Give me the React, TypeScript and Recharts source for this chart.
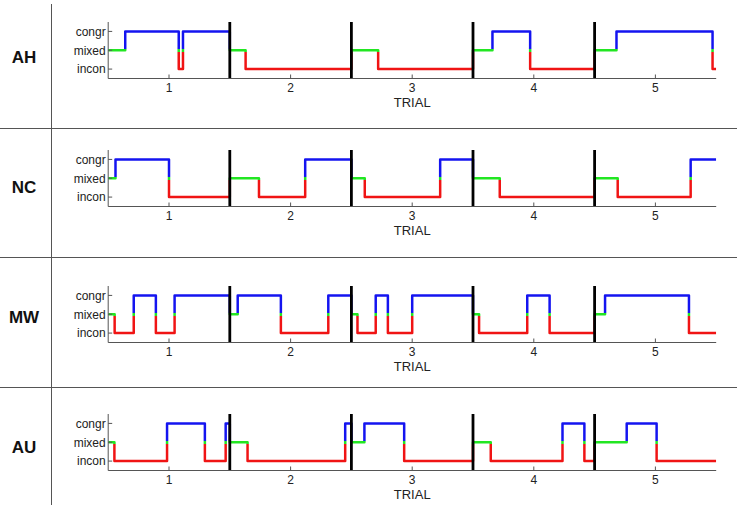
import { LineChart, Line, XAxis, YAxis, ReferenceLine } from "recharts";

// response level per trial segment: 0 = incon, 1 = mixed, 2 = congr
const LEVELS = ["incon", "mixed", "congr"];
const TRIALS = [1, 2, 3, 4, 5];
const BOUNDARIES = [1.5, 2.5, 3.5, 4.5];

const AH_X = [0.5, 0.64, 1.08, 1.115, 1.5, 1.63, 2.5, 2.72, 3.5, 3.66, 3.97, 4.5, 4.68, 5.47, 5.5];
const AH_S = [1, 2, 0, 2, 1, 0, 1, 0, 1, 2, 0, 1, 2, 0, 0];

const NC_X = [0.5, 0.56, 1.0, 1.5, 1.74, 2.12, 2.5, 2.61, 3.23, 3.5, 3.72, 4.5, 4.69, 5.29, 5.5];
const NC_S = [1, 2, 0, 1, 0, 2, 1, 0, 2, 1, 0, 1, 0, 2, 2];

const MW_X = [0.5, 0.553, 0.71, 0.892, 1.046, 1.5, 1.565, 1.92, 2.31, 2.5, 2.55, 2.7, 2.8, 3.0, 3.5, 3.55, 3.946, 4.13, 4.5, 4.586, 5.276, 5.5];
const MW_S = [1, 0, 2, 0, 2, 1, 2, 0, 2, 1, 0, 2, 0, 2, 1, 0, 2, 0, 1, 2, 0, 0];

const AU_X = [0.5, 0.551, 0.984, 1.295, 1.466, 1.5, 1.646, 2.449, 2.5, 2.607, 2.934, 3.5, 3.646, 4.236, 4.416, 4.5, 4.764, 5.01, 5.5];
const AU_S = [1, 0, 2, 0, 2, 1, 0, 2, 1, 2, 0, 1, 0, 2, 0, 1, 2, 0, 0];

const SUBJECTS = [
  { name: "AH", xs: AH_X, states: AH_S },
  { name: "NC", xs: NC_X, states: NC_S },
  { name: "MW", xs: MW_X, states: MW_S },
  { name: "AU", xs: AU_X, states: AU_S },
];

const PLOT_TOP = [21.6, 149.6, 285.7, 414];
const LABEL_Y = [58, 188, 318, 448];
const SEPARATORS = [127.5, 257, 386.5];

const BLUE = "#1414f0";
const GREEN = "#22e622";
const RED = "#f01414";
const FONT = "'Liberation Sans', Arial, sans-serif";

function SubjectRow({ name, xs, states, top }: { name: string; xs: number[]; states: number[]; top: number }) {
  const data = xs.map((x, i) => ({ x, s: states[i] }));
  const gid = `lvl-${name}`;
  return (
    <div style={{ position: "absolute", left: 0, top: top - 10 }}>
      <LineChart width={742} height={96.5} data={data} margin={{ top: 10, right: 25.8, bottom: 0, left: 0 }}>
        <defs>
          {/* colour by level: blue above mixed, green at mixed, red below */}
          <linearGradient id={gid} x1="0" y1="0" x2="0" y2="1">
            <stop offset="0.455" stopColor={BLUE} />
            <stop offset="0.455" stopColor={GREEN} />
            <stop offset="0.545" stopColor={GREEN} />
            <stop offset="0.545" stopColor={RED} />
          </linearGradient>
        </defs>
        <XAxis
          dataKey="x"
          type="number"
          domain={[0.5, 5.5]}
          ticks={TRIALS}
          interval={0}
          allowDataOverflow
          height={30}
          tickSize={-4}
          tickMargin={9}
          axisLine={{ stroke: "#555" }}
          tickLine={{ stroke: "#555" }}
          tick={{ fill: "#222", fontSize: 12, fontFamily: FONT }}
          label={{ value: "TRIAL", position: "insideBottom", offset: 2, fill: "#222", fontSize: 13, fontFamily: FONT }}
        />
        <YAxis
          type="number"
          domain={[-0.5, 2.5]}
          ticks={[0, 1, 2]}
          interval={0}
          width={108.2}
          tickSize={-4}
          tickMargin={6.5}
          tickFormatter={(v: number) => LEVELS[v]}
          axisLine={{ stroke: "#555" }}
          tickLine={{ stroke: "#555" }}
          tick={{ fill: "#222", fontSize: 12, fontFamily: FONT }}
        />
        <Line
          dataKey="s"
          type="stepAfter"
          stroke={`url(#${gid})`}
          strokeWidth={2.5}
          strokeLinejoin="round"
          dot={false}
          isAnimationActive={false}
        />
        {BOUNDARIES.map((b) => (
          <ReferenceLine key={b} x={b} stroke="#000" strokeWidth={2.8} />
        ))}
      </LineChart>
    </div>
  );
}

export default function App() {
  return (
    <div style={{ position: "absolute", left: 0, top: 0, width: 742, height: 510, background: "#fff", fontFamily: FONT }}>
      <div style={{ position: "absolute", left: 50.5, top: 4, width: 1, height: 501, background: "#555" }} />
      {SEPARATORS.map((y) => (
        <div key={y} style={{ position: "absolute", left: 0, top: y, width: 737, height: 1, background: "#555" }} />
      ))}
      {SUBJECTS.map((s, i) => (
        <div
          key={s.name + "-label"}
          style={{
            position: "absolute",
            left: 0,
            width: 48,
            top: LABEL_Y[i] - 10,
            height: 20,
            lineHeight: "20px",
            textAlign: "center",
            fontWeight: "bold",
            fontSize: 17,
            color: "#111",
          }}
        >
          {s.name}
        </div>
      ))}
      {SUBJECTS.map((s, i) => (
        <SubjectRow key={s.name} name={s.name} xs={s.xs} states={s.states} top={PLOT_TOP[i]} />
      ))}
    </div>
  );
}
